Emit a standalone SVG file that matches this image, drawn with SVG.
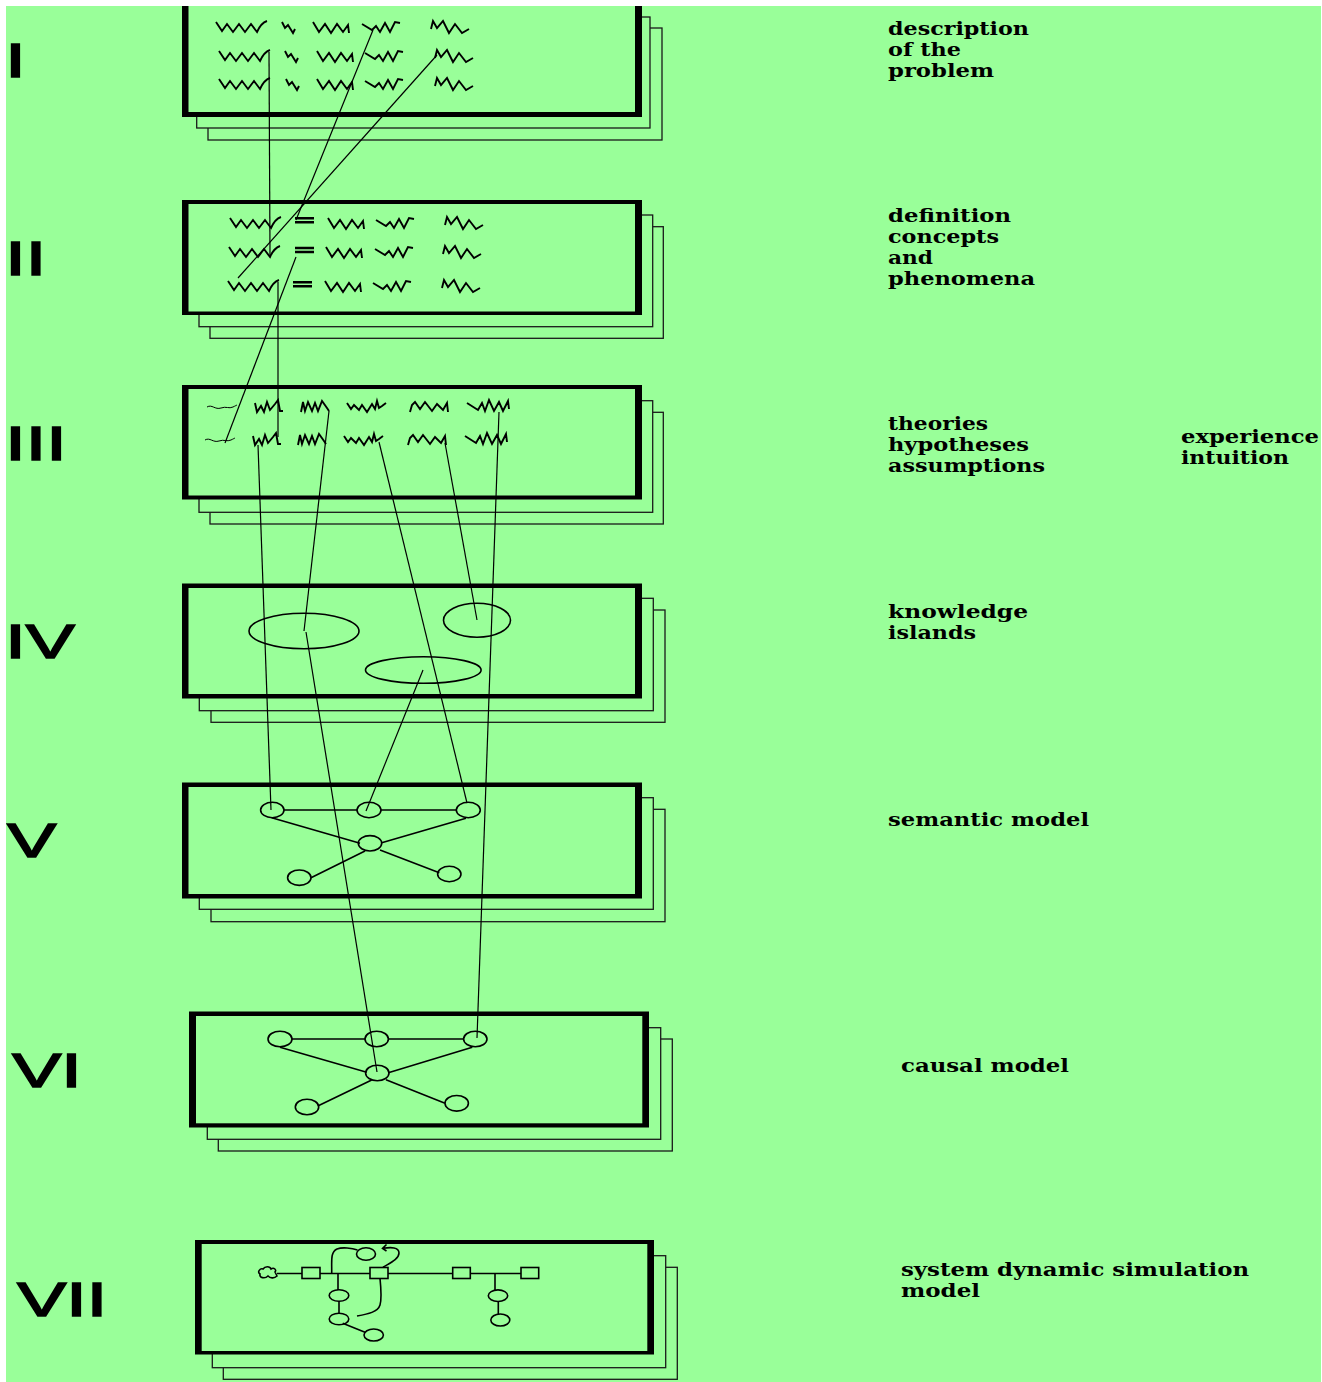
<svg xmlns="http://www.w3.org/2000/svg" width="1322" height="1382" viewBox="0 0 1322 1382">
<style>
.bg{fill:#99ff99}
.sh{fill:#99ff99;stroke:#1a1a1a;stroke-width:1.3}
.frame{fill:#000}
.inner{fill:#99ff99}
.sq{fill:none;stroke:#000;stroke-width:1.9}
.thin{fill:none;stroke:#000;stroke-width:1}
.eq{fill:none;stroke:#000;stroke-width:2.5}
.ln{fill:none;stroke:#000;stroke-width:1.2}
.nd{fill:none;stroke:#000;stroke-width:1.6}
.num{font-family:"Liberation Sans",Arial,sans-serif;font-weight:normal;font-size:49px;fill:#000;stroke:#000;stroke-width:1.6}
.lbl{font-family:"DejaVu Serif","Liberation Serif",serif;font-weight:bold;font-size:19px;fill:#000}
</style>
<defs>
<clipPath id="clip"><rect x="6" y="6" width="1315" height="1376"/></clipPath>
<path id="qA" class="sq" d="M0,-5 L6,4 L11,-3 L17,5 L23,-3 L29,5 L35,-3 L41,5 Q45,-4 51,-6"/>
<path id="qB" class="sq" d="M0,-5 L3,1 L6,-2 L11,6 L13,2"/>
<path id="qC" class="sq" d="M0,-5 L6,5 L12,-3 L18,6 L24,-3 L30,5 L35,-2 L36,6"/>
<path id="qD" class="sq" d="M0,-3 L10,3 L14,-1 L18,5 L23,-4 L28,5 L33,-5 L38,-4"/>
<path id="qE" class="sq" d="M0,2 L2,-6 L6,1 L12,-6 L18,6 L24,-3 L31,6 L38,2"/>
<path id="qEq" class="eq" d="M0,0 H19 M0,4 H19"/>
<path id="qa" class="thin" d="M0,0 C5,-3 8,3 14,1 C19,-1 22,2 26,0 C28,-1 30,-2 30,-2"/>
<path id="qb" class="sq" d="M0,-4 L2,5 L6,-1 L9,5 L12,-5 L15,3 L20,-3 L23,-7 L25,4 L28,4"/>
<path id="qc" class="sq" d="M0,5 L2,-5 L4,4 L7,-5 L11,4 L14,-4 L17,4 L21,-6 L26,1 L28,4"/>
<path id="qd" class="sq" d="M0,-4 L4,2 L7,-2 L12,3 L15,-2 L20,5 L25,-3 L28,2 L30,-6 L32,1 L35,-1 L39,-4"/>
<path id="qe" class="sq" d="M0,5 L2,-2 L5,-5 L10,2 L15,-5 L22,4 L27,-3 L33,3 L37,-4 L38,5"/>
<path id="qf" class="sq" d="M0,-4 L11,3 L15,-4 L18,4 L22,-7 L27,4 L32,-5 L36,4 L41,-6 L42,2"/>
</defs>
<rect x="0" y="0" width="1322" height="1382" fill="#fff"/>
<rect class="bg" x="6" y="6" width="1315" height="1376"/>
<g clip-path="url(#clip)">

<g id="stage-1">
<text class="num" transform="translate(5.3,77) scale(1.5,1)">I</text>
<rect class="sh" x="208" y="28" width="454" height="112"/>
<rect class="sh" x="196.7" y="17" width="453.3" height="111"/>
<rect class="frame" x="182" y="1" width="460" height="116"/>
<rect class="inner" x="188.5" y="5.5" width="446.5" height="106.5"/>
<use href="#qA" x="216" y="27"/><use href="#qB" x="282" y="27"/><use href="#qC" x="313" y="27"/><use href="#qD" x="362" y="27"/><use href="#qE" x="431" y="27"/>
<use href="#qA" x="219" y="56"/><use href="#qB" x="285" y="56"/><use href="#qC" x="317" y="56"/><use href="#qD" x="365" y="56"/><use href="#qE" x="435" y="56"/>
<use href="#qA" x="219" y="84"/><use href="#qB" x="286" y="84"/><use href="#qC" x="317" y="84"/><use href="#qD" x="365" y="84"/><use href="#qE" x="435" y="84"/>
<text class="lbl" x="888" y="35" textLength="141" lengthAdjust="spacingAndGlyphs">description</text>
<text class="lbl" x="888" y="56" textLength="73" lengthAdjust="spacingAndGlyphs">of the</text>
<text class="lbl" x="888" y="77" textLength="106" lengthAdjust="spacingAndGlyphs">problem</text>
</g>

<g id="stage-2">
<text class="num" transform="translate(5.3,275) scale(1.5,1)">II</text>
<rect class="sh" x="210" y="226.7" width="453.3" height="111.6"/>
<rect class="sh" x="199" y="215" width="453.7" height="111.7"/>
<rect class="frame" x="182" y="200" width="460" height="115"/>
<rect class="inner" x="188.5" y="204" width="446.5" height="107.5"/>
<use href="#qA" x="230" y="223"/><use href="#qEq" x="295" y="218.3"/><use href="#qC" x="328" y="223"/><use href="#qD" x="376" y="223"/><use href="#qE" x="445" y="223"/>
<use href="#qA" x="229" y="252"/><use href="#qEq" x="295" y="248"/><use href="#qC" x="326" y="252"/><use href="#qD" x="375" y="252"/><use href="#qE" x="443" y="252"/>
<use href="#qA" x="228" y="286"/><use href="#qEq" x="293" y="282.3"/><use href="#qC" x="325" y="286"/><use href="#qD" x="373" y="286"/><use href="#qE" x="442" y="286"/>
<text class="lbl" x="888" y="222" textLength="123" lengthAdjust="spacingAndGlyphs">definition</text>
<text class="lbl" x="888" y="243" textLength="111" lengthAdjust="spacingAndGlyphs">concepts</text>
<text class="lbl" x="888" y="264" textLength="45" lengthAdjust="spacingAndGlyphs">and</text>
<text class="lbl" x="888" y="285" textLength="147" lengthAdjust="spacingAndGlyphs">phenomena</text>
</g>

<g id="stage-3">
<text class="num" transform="translate(5.3,460) scale(1.5,1)">III</text>
<rect class="sh" x="210" y="412.3" width="453.3" height="111.7"/>
<rect class="sh" x="199" y="400.7" width="453.7" height="111.6"/>
<rect class="frame" x="182" y="385" width="460" height="114.5"/>
<rect class="inner" x="188.5" y="389" width="446.5" height="106.5"/>
<use href="#qa" x="207" y="407"/><use href="#qb" x="255" y="407"/><use href="#qc" x="301" y="407"/><use href="#qd" x="347" y="407"/><use href="#qe" x="410" y="407"/><use href="#qf" x="467" y="407"/>
<use href="#qa" x="205" y="440"/><use href="#qb" x="253" y="440"/><use href="#qc" x="298" y="440"/><use href="#qd" x="344" y="440"/><use href="#qe" x="408" y="440"/><use href="#qf" x="465" y="440"/>
<text class="lbl" x="888" y="430" textLength="100" lengthAdjust="spacingAndGlyphs">theories</text>
<text class="lbl" x="888" y="451" textLength="141" lengthAdjust="spacingAndGlyphs">hypotheses</text>
<text class="lbl" x="888" y="472" textLength="157" lengthAdjust="spacingAndGlyphs">assumptions</text>
<text class="lbl" x="1181" y="443" textLength="138" lengthAdjust="spacingAndGlyphs">experience</text>
<text class="lbl" x="1181" y="464" textLength="108" lengthAdjust="spacingAndGlyphs">intuition</text>
</g>

<g id="stage-4">
<text class="num" transform="translate(5.3,658) scale(1.5,1)">IV</text>
<rect class="sh" x="211" y="610" width="454" height="112.3"/>
<rect class="sh" x="199.3" y="598.3" width="454" height="112.4"/>
<rect class="frame" x="182" y="583.5" width="460" height="115"/>
<rect class="inner" x="188.5" y="588" width="446.5" height="106"/>
<ellipse class="nd" cx="304" cy="631" rx="55" ry="17.8"/>
<ellipse class="nd" cx="477" cy="620.3" rx="33.5" ry="17"/>
<ellipse class="nd" cx="423.3" cy="670" rx="57.8" ry="13.3"/>
<text class="lbl" x="888" y="618" textLength="140" lengthAdjust="spacingAndGlyphs">knowledge</text>
<text class="lbl" x="888" y="639" textLength="88" lengthAdjust="spacingAndGlyphs">islands</text>
</g>

<g id="stage-5">
<text class="num" transform="translate(7.3,857) scale(1.5,1)">V</text>
<rect class="sh" x="211" y="809.3" width="454" height="112.4"/>
<rect class="sh" x="199.3" y="797.7" width="454" height="111.6"/>
<rect class="frame" x="182" y="782.5" width="460" height="116"/>
<rect class="inner" x="188.5" y="787" width="446.5" height="107"/>
<path class="nd" d="M284,810 H357 M381,810 H456.3 M271.7,817.7 L360,843.3 M466,818.3 L381.7,842.7 M365,851 L311,877.7 M380,850 L439.3,872.7"/>
<ellipse class="nd" cx="272.3" cy="810" rx="11.7" ry="7.7"/>
<ellipse class="nd" cx="369" cy="810" rx="12" ry="7.7"/>
<ellipse class="nd" cx="468.3" cy="810" rx="12" ry="7.7"/>
<ellipse class="nd" cx="370" cy="843.3" rx="11.7" ry="7.7"/>
<ellipse class="nd" cx="299.3" cy="877.7" rx="11.7" ry="7.7"/>
<ellipse class="nd" cx="449.3" cy="874" rx="11.7" ry="7.7"/>
<text class="lbl" x="888" y="826" textLength="201" lengthAdjust="spacingAndGlyphs">semantic model</text>
</g>

<g id="stage-6">
<text class="num" transform="translate(12.3,1087) scale(1.5,1)">VI</text>
<rect class="sh" x="218.3" y="1039" width="454" height="112"/>
<rect class="sh" x="207.3" y="1027.7" width="453.4" height="111.6"/>
<rect class="frame" x="189" y="1011.5" width="460" height="116"/>
<rect class="inner" x="196" y="1016" width="446.3" height="107.3"/>
<path class="nd" d="M292,1039 H365 M388.4,1039 H463.6 M280,1047.3 L366.7,1072.3 M472.3,1047.3 L388.3,1072.7 M371.7,1080 L318.3,1105.7 M386,1079.7 L445,1103.3"/>
<ellipse class="nd" cx="280" cy="1039" rx="12" ry="7.8"/>
<ellipse class="nd" cx="376.7" cy="1039" rx="11.7" ry="7.8"/>
<ellipse class="nd" cx="475.3" cy="1039" rx="11.7" ry="7.8"/>
<ellipse class="nd" cx="377.3" cy="1073" rx="11.7" ry="7.8"/>
<ellipse class="nd" cx="307" cy="1107" rx="11.7" ry="7.8"/>
<ellipse class="nd" cx="456.7" cy="1103.3" rx="11.7" ry="7.8"/>
<text class="lbl" x="901" y="1072" textLength="168" lengthAdjust="spacingAndGlyphs">causal model</text>
</g>

<g id="stage-7">
<text class="num" transform="translate(17.3,1316) scale(1.5,1)">VII</text>
<rect class="sh" x="223.3" y="1267.3" width="454" height="112"/>
<rect class="sh" x="212.3" y="1255.7" width="453.4" height="112"/>
<rect class="frame" x="195" y="1240" width="459" height="114.5"/>
<rect class="inner" x="201.7" y="1244" width="445.6" height="107"/>
<path class="nd" d="M277,1276 C274,1279 270,1278 268,1276 C265,1279 259,1278 260,1274 C257,1272 260,1268 263,1269 C265,1266 270,1266 271,1269 C274,1267 277,1270 275,1272 Z"/>
<path class="nd" d="M277,1273.5 H302 M320,1273.5 H370 M388,1273.5 H452.7 M470.3,1273.5 H521"/>
<rect class="nd" x="302" y="1267.5" width="18" height="11"/>
<rect class="nd" x="370" y="1267.5" width="18" height="11"/>
<rect class="nd" x="452.7" y="1267.5" width="17.6" height="11"/>
<rect class="nd" x="521" y="1267.5" width="17.7" height="11"/>
<path class="nd" d="M338,1273.5 V1290 M339,1301.3 V1313.2 M342.7,1323.3 L365,1332.3 M495,1273.5 V1290 M498.3,1301.5 V1314"/>
<path class="nd" d="M331.7,1273.5 C332,1262 330,1252 337,1249 C342,1247 352,1248 357.5,1250"/>
<path class="nd" d="M380,1278.3 C381,1288 382,1298 380,1305 C378,1312 368,1314 357,1316"/>
<path class="nd" d="M383,1267.3 C390,1263 399,1259 399,1253 C399,1247 391,1247 383,1248.3 M386.5,1244.5 L382.5,1248.3 L386.5,1251"/>
<ellipse class="nd" cx="339" cy="1295.5" rx="9.8" ry="5.8"/>
<ellipse class="nd" cx="339" cy="1319" rx="9.8" ry="5.8"/>
<ellipse class="nd" cx="373.7" cy="1335" rx="9.7" ry="6"/>
<ellipse class="nd" cx="366" cy="1254" rx="9.5" ry="6.3"/>
<ellipse class="nd" cx="498" cy="1295.7" rx="9.7" ry="5.8"/>
<ellipse class="nd" cx="500.3" cy="1320" rx="9.5" ry="6"/>
<text class="lbl" x="901" y="1276" textLength="348" lengthAdjust="spacingAndGlyphs">system dynamic simulation</text>
<text class="lbl" x="901" y="1297" textLength="79" lengthAdjust="spacingAndGlyphs">model</text>
</g>

<g id="connectors" class="ln">
<line x1="269" y1="52" x2="270" y2="255"/>
<line x1="373" y1="30" x2="296" y2="220"/>
<line x1="437" y1="55" x2="238" y2="278"/>
<line x1="278" y1="282" x2="278" y2="437"/>
<line x1="296" y1="257" x2="225" y2="443"/>
<line x1="258" y1="445" x2="271" y2="810"/>
<line x1="329" y1="411" x2="304" y2="631"/>
<line x1="379" y1="442" x2="467" y2="803"/>
<line x1="445" y1="443" x2="477" y2="620"/>
<line x1="499" y1="412" x2="477" y2="1038"/>
<line x1="306" y1="632" x2="377" y2="1072"/>
<line x1="423" y1="670" x2="366" y2="811"/>
</g>
</g>
</svg>
